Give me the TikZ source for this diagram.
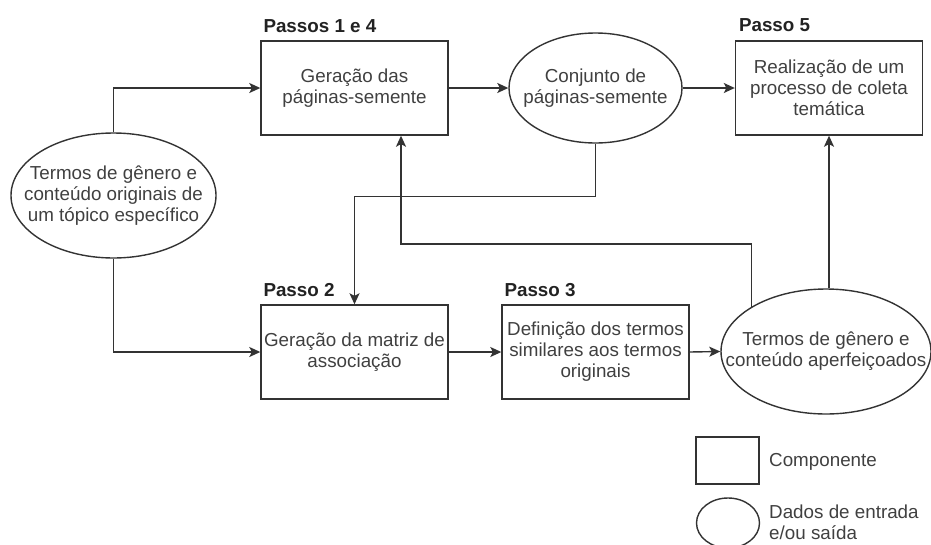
\documentclass[tikz,border=0pt]{standalone}
\usepackage{fontspec}
\setmainfont{Liberation Sans}
\usetikzlibrary{arrows.meta,shapes.geometric,calc}
\definecolor{ink}{HTML}{333333}
\definecolor{txt}{HTML}{404040}
\definecolor{lbl}{HTML}{222222}
\begin{document}
\begin{tikzpicture}[x=1pt,y=-1pt,
  font=\fontsize{18.8}{21}\selectfont,
  every node/.style={text=txt},
  comp/.style={draw=ink, line width=1.4pt, rectangle, minimum width=187pt,
    minimum height=94pt, inner sep=0pt, align=center},
  data/.style={draw=ink, line width=1.4pt, ellipse, inner sep=0pt},
  datatext/.style={align=center, inner sep=0pt},
  steplabel/.style={font=\fontsize{18.8}{21}\selectfont\bfseries, text=lbl,
    anchor=base west, inner sep=0pt},
  legtext/.style={anchor=west, align=left, inner sep=0pt},
  arr/.style={draw=ink, line width=1.4pt,
    -{Stealth[length=11pt,width=10pt,inset=2.5pt]}},
  ]
\useasboundingbox (0,0) rectangle (931,544);

% components (steps)
\node[comp] (gA) at (354.5,88) {Geração das\\páginas-semente};
\node[comp] (gC) at (829,88) {Realização de um\\processo de coleta\\temática};
\node[comp] (gB) at (354.5,352) {Geração da matriz de\\associação};
\node[comp] (gD) at (595.5,352) {Definição dos termos\\similares aos termos\\originais};

% step labels
\node[steplabel] (lA) at ($(gA.north west)+(3,-8)$) {Passos 1 e 4};
\node[steplabel] (lC) at ($(gC.north west)+(4,-9)$) {Passo 5};
\node[steplabel] (lB) at ($(gB.north west)+(3,-8)$) {Passo 2};
\node[steplabel] (lD) at ($(gD.north west)+(3,-8)$) {Passo 3};

% input / output data
\node[data, minimum width=205pt, minimum height=125pt] (in1) at (113.5,195.5) {};
\node[datatext] (in1t) at (in1) {Termos de gênero e\\conteúdo originais de\\um tópico específico};
\node[data, minimum width=173pt, minimum height=110pt] (seeds) at (595.5,88) {};
\node[datatext] (seedst) at (seeds) {Conjunto de\\páginas-semente};
\node[data, minimum width=210pt, minimum height=125pt] (out2) at (826,351.5) {};
\node[datatext] (out2t) at (out2) {Termos de gênero e\\conteúdo aperfeiçoados};

% connectors
\draw[arr] (in1.north) |- (gA.west);
\draw[arr] (in1.south) |- (gB.west);
\draw[arr] (gA.east) -- (seeds.west);
\draw[arr] (seeds.east) -- (gC.west);
\draw[arr] (gB.east) -- (gD.west);
\draw[arr] (gD.east) -- (out2.west);
\draw[arr] (seeds.south) -- ++(0,53) -| (gB.north);
\draw[arr] (gC.south |- out2.north) -- (gC.south);
\coordinate (loop) at (401,244);
\draw[arr] (out2.149) |- (loop) -- (loop |- gA.south);

% legend
\node[draw=ink, line width=1.4pt, minimum width=63pt, minimum height=47pt, inner sep=0pt] (lgc) at (727.5,460.5) {};
\node[legtext] (lgct) at (769,462) {Componente};
\node[data, minimum width=63pt, minimum height=50pt] (lgd) at (728,523) {};
\node[legtext] (lgdt) at (769,522) {Dados de entrada\\e/ou saída};
\end{tikzpicture}
\end{document}
